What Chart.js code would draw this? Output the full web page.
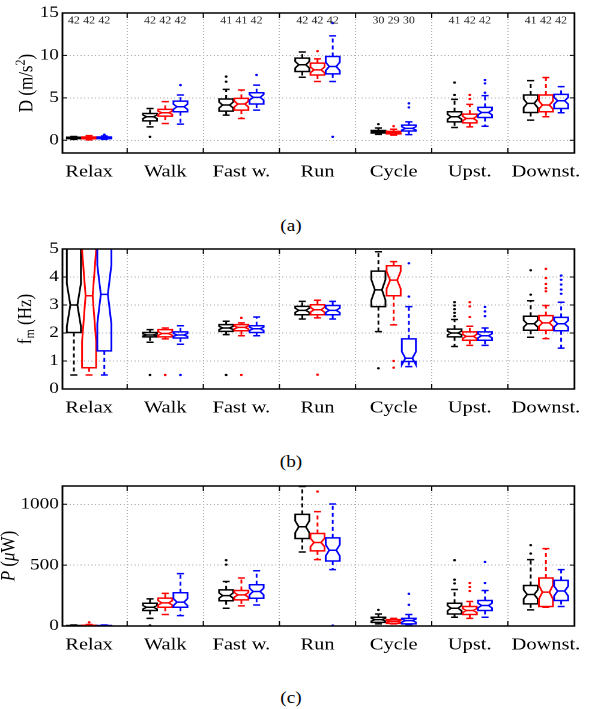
<!DOCTYPE html>
<html>
<head>
<meta charset="utf-8">
<script src="https://cdn.jsdelivr.net/npm/chart.js@4.4.0/dist/chart.umd.min.js"></script>
<style>
body { margin: 0; background: #fff; width: 592px; height: 709px; position: relative; overflow: hidden; font-family: 'Liberation Serif', serif; }
canvas { position: absolute; left: 0; }
.lab { position: absolute; left: 0; width: 582px; text-align: center; font-size: 16px; line-height: 16px; color: #000; transform: scaleX(1.2); }
</style>
</head>
<body>
<!-- the original figure is stretched sideways, so the charts are drawn narrower and widened by css -->
<canvas id="cA" width="493" height="190" style="top:0px;width:592px;height:190px"></canvas>
<canvas id="cB" width="493" height="190" style="top:236px;width:592px;height:190px"></canvas>
<canvas id="cC" width="493" height="190" style="top:473px;width:592px;height:190px"></canvas>
<div class="lab" style="top:218px">(a)</div>
<div class="lab" style="top:454px">(b)</div>
<div class="lab" style="top:690px">(c)</div>
<script>
var categories = ['Relax', 'Walk', 'Fast w.', 'Run', 'Cycle', 'Upst.', 'Downst.'];
var seriesColors = ['#000000', '#ff0000', '#0000ff'];
// samples per box (black, red, blue)
var counts = [
  [42, 42, 41, 42, 30, 41, 41],
  [42, 42, 41, 42, 29, 42, 42],
  [42, 42, 42, 42, 30, 42, 42]
];

// (a) D (m/s^2)
var dLow  = [[0.1, 1.58, 2.96, 7.43, 0.7, 1.5, 2.37], [0.05, 1.98, 2.57, 6.92, 0.6, 1.58, 2.77], [0.1, 1.9, 3.56, 6.92, 0.67, 1.66, 3.24]];
var dQ1   = [[0.2, 2.29, 3.44, 8.1, 0.85, 2.17, 3.28], [0.18, 2.85, 3.56, 7.7, 0.75, 2.05, 3.36], [0.2, 3.36, 4.27, 7.83, 1.1, 2.69, 3.75]];
var dMed  = [[0.28, 2.77, 4.15, 8.9, 1.0, 2.77, 4.35], [0.27, 3.24, 4.27, 8.3, 0.9, 2.57, 4.15], [0.28, 3.95, 5.06, 8.7, 1.4, 3.28, 4.66]];
var dQ3   = [[0.35, 3.16, 4.86, 9.68, 1.15, 3.36, 5.34], [0.38, 3.64, 4.94, 9.09, 1.05, 3.08, 5.34], [0.38, 4.62, 5.6, 9.88, 1.78, 3.87, 5.41]];
var dHigh = [[0.45, 3.75, 6.0, 10.4, 1.45, 4.82, 7.03], [0.55, 4.55, 5.93, 9.6, 1.3, 4.23, 7.4], [0.5, 5.34, 6.5, 12.3, 2.17, 5.26, 6.32]];
var dOut  = [
  [[], [0.4], [6.9, 7.5], [], [1.9], [5.34, 6.8], []],
  [[], [], [], [10.5], [1.66], [4.86, 5.34], []],
  [[0.65], [6.5], [7.7], [13.8, 0.4], [3.87, 4.35], [5.6, 6.7, 7.1], []]
];
var dTicks = [0, 5, 10, 15];

// (b) fm (Hz)
var fLow  = [[0.5, 1.67, 1.94, 2.5, 2.05, 1.52, 1.85], [0.5, 1.79, 1.9, 2.54, 2.29, 1.56, 1.8], [0.5, 1.6, 1.9, 2.5, 0.8, 1.56, 1.46]];
var fQ1   = [[2.02, 1.86, 2.06, 2.65, 2.94, 1.86, 2.1], [0.76, 1.86, 2.08, 2.65, 3.33, 1.74, 2.1], [1.36, 1.82, 2.02, 2.65, 0.98, 1.74, 2.08]];
var fMed  = [[3.0, 1.93, 2.18, 2.81, 3.54, 2.0, 2.33], [3.33, 1.98, 2.2, 2.83, 3.89, 1.88, 2.36], [3.38, 1.93, 2.15, 2.81, 1.1, 1.9, 2.33]];
var fQ3   = [[5.2, 2.02, 2.3, 2.95, 4.21, 2.14, 2.6], [7.5, 2.12, 2.3, 3.01, 4.4, 2.04, 2.62], [5.7, 2.04, 2.26, 2.98, 1.79, 2.04, 2.56]];
var fHigh = [[6.0, 2.12, 2.42, 3.13, 4.9, 2.48, 3.15], [8.0, 2.18, 2.36, 3.17, 4.55, 2.24, 2.98], [6.0, 2.26, 2.57, 3.13, 2.94, 2.18, 3.1]];
var fOut  = [
  [[], [0.5], [0.5], [], [0.74], [2.6, 2.72, 2.85, 2.98, 3.1], [3.37, 4.24]],
  [[], [0.5], [0.5, 2.54], [0.51], [0.76, 1.0], [2.57, 2.95, 3.1], [3.49, 3.6, 3.75, 3.96, 4.29]],
  [[], [0.5], [], [], [3.3, 4.49], [2.6, 2.77, 2.93], [3.4, 3.55, 3.73, 3.9, 4.05]]
];
var fTicks = [0, 1, 2, 3, 4, 5];

// (c) P (uW)
var pLow  = [[0, 63, 146, 608, 17, 72, 132], [0, 94, 165, 545, 17, 63, 154], [0, 85, 173, 463, 11, 72, 160]];
var pQ1   = [[1, 127, 207, 719, 30, 99, 182], [1, 154, 215, 617, 22, 94, 160], [1, 154, 228, 534, 17, 127, 209]];
var pMed  = [[2, 154, 250, 815, 52, 146, 259], [3, 190, 256, 686, 38, 127, 278], [2, 196, 283, 622, 44, 168, 287]];
var pQ3   = [[4, 187, 297, 917, 72, 187, 333], [6, 229, 292, 760, 52, 160, 394], [4, 273, 339, 724, 63, 209, 375]];
var pHigh = [[8, 223, 366, 1146, 99, 300, 545], [12, 268, 394, 939, 63, 201, 636], [8, 430, 454, 1002, 94, 292, 463]];
var pOut  = [
  [[], [5], [504, 540], [], [132], [350, 380, 540], [595, 664]],
  [[30], [], [], [1104], [], [287, 320, 353], []],
  [[], [], [], [3], [174, 264], [353, 526], []]
];
var pTicks = [0, 500, 1000];

var offsets = [-0.2, 0, 0.2];
var boxWidth = 0.185;
var xMin = -0.35, xMax = 6.375;

function boxPlugin(stats) {
  return {
    id: 'notchedBoxes',
    afterDatasetsDraw: function (chart) {
      var ctx = chart.ctx, x = chart.scales.x, y = chart.scales.y, a = chart.chartArea;
      ctx.save();
      ctx.beginPath();
      ctx.rect(a.left, a.top, a.right - a.left, a.bottom - a.top);
      ctx.clip();
      ctx.lineWidth = 1.5;
      for (var s = 0; s < 3; s++) {
        ctx.strokeStyle = seriesColors[s];
        for (var g = 0; g < categories.length; g++) {
          var q1 = stats.q1[s][g], med = stats.med[s][g], q3 = stats.q3[s][g];
          var nc = 1.57 * (q3 - q1) / Math.sqrt(counts[s][g]);
          var xc = g + offsets[s];
          var xl = x.getPixelForValue(xc - boxWidth / 2), xr = x.getPixelForValue(xc + boxWidth / 2);
          var xil = x.getPixelForValue(xc - boxWidth / 4), xir = x.getPixelForValue(xc + boxWidth / 4);
          var xm = x.getPixelForValue(xc);
          var pLo = y.getPixelForValue(stats.low[s][g]), pHi = y.getPixelForValue(stats.high[s][g]);
          var pQ1 = y.getPixelForValue(q1), pQ3 = y.getPixelForValue(q3), pMd = y.getPixelForValue(med);
          var pNlo = y.getPixelForValue(med - nc), pNhi = y.getPixelForValue(med + nc);

          ctx.setLineDash([4, 3]);
          ctx.beginPath();
          ctx.moveTo(xm, pQ3); ctx.lineTo(xm, pHi);
          ctx.moveTo(xm, pQ1); ctx.lineTo(xm, pLo);
          ctx.stroke();
          ctx.setLineDash([]);

          ctx.beginPath();
          ctx.moveTo(xil, pHi); ctx.lineTo(xir, pHi);
          ctx.moveTo(xil, pLo); ctx.lineTo(xir, pLo);
          ctx.stroke();

          ctx.beginPath();
          ctx.moveTo(xl, pQ1); ctx.lineTo(xl, pNlo); ctx.lineTo(xil, pMd); ctx.lineTo(xl, pNhi); ctx.lineTo(xl, pQ3);
          ctx.lineTo(xr, pQ3); ctx.lineTo(xr, pNhi); ctx.lineTo(xir, pMd); ctx.lineTo(xr, pNlo); ctx.lineTo(xr, pQ1);
          ctx.closePath();
          ctx.stroke();

          ctx.beginPath();
          ctx.moveTo(xil, pMd); ctx.lineTo(xir, pMd);
          ctx.stroke();
        }
      }
      ctx.restore();
    }
  };
}

// axes box with small inward ticks, like the matlab frame
var framePlugin = {
  id: 'frame',
  afterDraw: function (chart) {
    var ctx = chart.ctx, a = chart.chartArea;
    ctx.save();
    ctx.strokeStyle = '#000';
    ctx.lineWidth = 1.5;
    ctx.strokeRect(a.left, a.top, a.right - a.left, a.bottom - a.top);
    ctx.lineWidth = 1;
    ctx.beginPath();
    chart.scales.y.ticks.forEach(function (t) {
      var py = chart.scales.y.getPixelForValue(t.value);
      ctx.moveTo(a.left, py); ctx.lineTo(a.left + 4, py);
      ctx.moveTo(a.right, py); ctx.lineTo(a.right - 4, py);
    });
    chart.scales.xg.ticks.forEach(function (t) {
      var px = chart.scales.xg.getPixelForValue(t.value);
      ctx.moveTo(px, a.top); ctx.lineTo(px, a.top + 5);
      ctx.moveTo(px, a.bottom); ctx.lineTo(px, a.bottom - 5);
    });
    ctx.stroke();
    ctx.restore();
  }
};

function titlePlugin(parts, cx) {
  return {
    id: 'yTitle',
    afterDraw: function (chart) {
      var ctx = chart.ctx, a = chart.chartArea;
      var fontOf = function (p) {
        return (p.italic ? 'italic ' : '') + ((p.sup || p.sub) ? '12px' : '17px') + " 'Liberation Serif'";
      };
      ctx.save();
      ctx.translate(cx, (a.top + a.bottom) / 2);
      ctx.rotate(-Math.PI / 2);
      ctx.fillStyle = '#000';
      ctx.textBaseline = 'middle';
      var total = 0;
      parts.forEach(function (p) { ctx.font = fontOf(p); total += ctx.measureText(p.t).width; });
      var pos = -total / 2;
      parts.forEach(function (p) {
        ctx.font = fontOf(p);
        var dy = p.sup ? -5 : (p.sub ? 4 : 0);
        ctx.fillText(p.t, pos, dy);
        pos += ctx.measureText(p.t).width;
      });
      ctx.restore();
    }
  };
}

var countPlugin = {
  id: 'counts',
  afterDraw: function (chart) {
    var ctx = chart.ctx, x = chart.scales.x, a = chart.chartArea;
    ctx.save();
    ctx.fillStyle = '#222';
    ctx.font = "10px 'Liberation Serif'";
    ctx.textAlign = 'center';
    ctx.textBaseline = 'middle';
    for (var s = 0; s < 3; s++) {
      for (var g = 0; g < categories.length; g++) {
        ctx.fillText(String(counts[s][g]), x.getPixelForValue(g + offsets[s]), a.top + 8);
      }
    }
    ctx.restore();
  }
};

function outlierSets(out) {
  return seriesColors.map(function (col, s) {
    var pts = [];
    out[s].forEach(function (list, g) {
      list.forEach(function (v) { pts.push({ x: g + offsets[s], y: v }); });
    });
    return { data: pts, pointRadius: 1.2, pointHoverRadius: 1.2, pointBackgroundColor: col, pointBorderWidth: 0 };
  });
}

function makeChart(id, stats, out, yMin, yMax, yTicks, title, titleX, extra) {
  var plugins = [boxPlugin(stats), framePlugin, titlePlugin(title, titleX)].concat(extra || []);
  return new Chart(document.getElementById(id).getContext('2d'), {
    type: 'scatter',
    data: { datasets: outlierSets(out) },
    options: {
      responsive: false,
      devicePixelRatio: 2,
      animation: false,
      events: [],
      layout: { padding: { left: 0, right: 9, top: 13, bottom: 0 } },
      plugins: { legend: { display: false }, tooltip: { enabled: false } },
      scales: {
        x: {
          type: 'linear', position: 'bottom', min: xMin, max: xMax,
          afterBuildTicks: function (s) { s.ticks = categories.map(function (c, i) { return { value: i }; }); },
          afterFit: function (s) { s.height = 37; },
          ticks: {
            autoSkip: false, maxRotation: 0, padding: 9, color: '#000',
            font: { family: 'Liberation Serif', size: 17 },
            callback: function (v, i) { return categories[i]; }
          },
          grid: { display: false, drawTicks: false },
          border: { display: false }
        },
        xg: {
          type: 'linear', position: 'top', min: xMin, max: xMax,
          afterBuildTicks: function (s) {
            s.ticks = categories.slice(1).map(function (c, i) { return { value: i + 0.5 }; });
          },
          ticks: { display: false },
          grid: { color: '#b0b0b0', lineWidth: 1, drawTicks: false },
          border: { display: false, dash: [1, 2] }
        },
        y: {
          type: 'linear', min: yMin, max: yMax,
          afterBuildTicks: function (s) { s.ticks = yTicks.map(function (v) { return { value: v }; }); },
          afterFit: function (s) { s.width = 52; },
          ticks: {
            color: '#000', font: { family: 'Liberation Serif', size: 16 }, padding: 3,
            callback: function (v) { return String(v); }
          },
          grid: { color: '#b0b0b0', lineWidth: 1, drawTicks: false },
          border: { display: false, dash: [1, 2] }
        }
      }
    },
    plugins: plugins
  });
}

makeChart('cA', { low: dLow, q1: dQ1, med: dMed, q3: dQ3, high: dHigh }, dOut, -1.5, 15, dTicks,
  [{ t: 'D (m/s' }, { t: '2', sup: true }, { t: ')' }], 22.5, [countPlugin]);
makeChart('cB', { low: fLow, q1: fQ1, med: fMed, q3: fQ3, high: fHigh }, fOut, 0, 5, fTicks,
  [{ t: 'f' }, { t: 'm', sub: true }, { t: ' (Hz)' }], 21.5);
makeChart('cC', { low: pLow, q1: pQ1, med: pMed, q3: pQ3, high: pHigh }, pOut, 0, 1150, pTicks,
  [{ t: 'P', italic: true }, { t: ' (' }, { t: 'μ', italic: true }, { t: 'W)' }], 7.5);
</script>
</body>
</html>
